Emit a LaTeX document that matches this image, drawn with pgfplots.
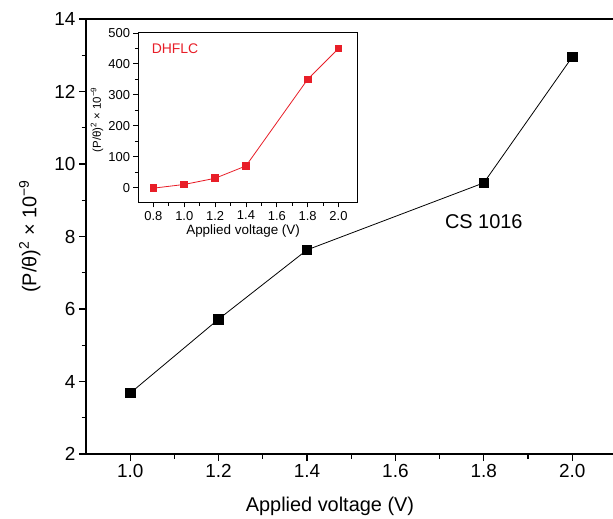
\documentclass[border=0pt]{standalone}
\usepackage{fontspec}
\setmainfont{Liberation Sans}
\usepackage{pgfplots}
\pgfplotsset{compat=1.18}

\definecolor{insetred}{RGB}{232,30,40}

\pgfplotsset{
  plainstyle/.style={
    scale only axis,
    axis line style={line width=1.4bp},
    tick style={line width=1.2bp, black},
    tick align=outside,
    tick pos=left,
    /pgf/number format/assume math mode=true,
    xticklabel style={/pgf/number format/fixed,/pgf/number format/precision=1,/pgf/number format/fixed zerofill},
  }
}

\begin{document}
\begin{tikzpicture}
\useasboundingbox (-86bp,-65bp) rectangle (527bp,454bp);

% main axis
\begin{axis}[
  plainstyle,
  at={(0,0)}, anchor=south west,
  width=530.4bp, height=435bp,
  xmin=0.9, xmax=2.1,
  ymin=2, ymax=14,
  xtick={1.0,1.2,1.4,1.6,1.8,2.0},
  ytick={2,4,...,14},
  minor x tick num=1,
  minor y tick num=1,
  major tick length=7bp,
  minor tick length=4.5bp,
  tick label style={font=\fontsize{19}{22}\selectfont},
  label style={font=\fontsize{20}{24}\selectfont},
  xlabel={Applied voltage (V)},
  ylabel={(P/θ)\textsuperscript{2} × 10\textsuperscript{−9}},
  xlabel style={at={(axis description cs:0.46,-0.12)}, anchor=center},
  ylabel style={at={(axis description cs:-0.106,0.5)}, anchor=center},
]
\addplot[black, line width=0.8bp, mark=square*, mark size=4.8bp,
  mark options={solid, fill=black}] coordinates {
  (1.0,3.68)
  (1.2,5.72)
  (1.4,7.63)
  (1.8,9.48)
  (2.0,12.95)
};
\node[font=\fontsize{20}{24}\selectfont] at (axis cs:1.8,8.4) {CS 1016};
\end{axis}

% inset
\begin{axis}[
  plainstyle,
  at={(52bp,251bp)}, anchor=south west,
  width=219bp, height=170bp,
  axis background/.style={fill=white},
  axis line style={line width=1bp},
  tick style={line width=0.9bp, black},
  xmin=0.7, xmax=2.12,
  ymin=-50, ymax=500,
  xtick={0.8,1.0,...,2.0},
  ytick={0,100,...,500},
  minor x tick num=1,
  minor y tick num=1,
  major tick length=4.5bp,
  minor tick length=3bp,
  tick label style={font=\fontsize{13}{15}\selectfont},
  xlabel style={font=\fontsize{13.5}{16}\selectfont, at={(axis description cs:0.48,-0.165)}, anchor=center},
  ylabel style={font=\fontsize{11.5}{14}\selectfont, at={(axis description cs:-0.187,0.49)}, anchor=center},
  xlabel={Applied voltage (V)},
  ylabel={(P/θ)\textsuperscript{2} × 10\textsuperscript{−9}},
]
\addplot[insetred, line width=0.8bp, mark=square*, mark size=3.4bp,
  mark options={solid, fill=insetred}] coordinates {
  (0.8,-2)
  (1.0,10)
  (1.2,30)
  (1.4,70)
  (1.8,350)
  (2.0,450)
};
\node[font=\fontsize{14}{16}\selectfont, text=insetred] at (axis cs:0.94,448) {DHFLC};
\end{axis}
\end{tikzpicture}
\end{document}
